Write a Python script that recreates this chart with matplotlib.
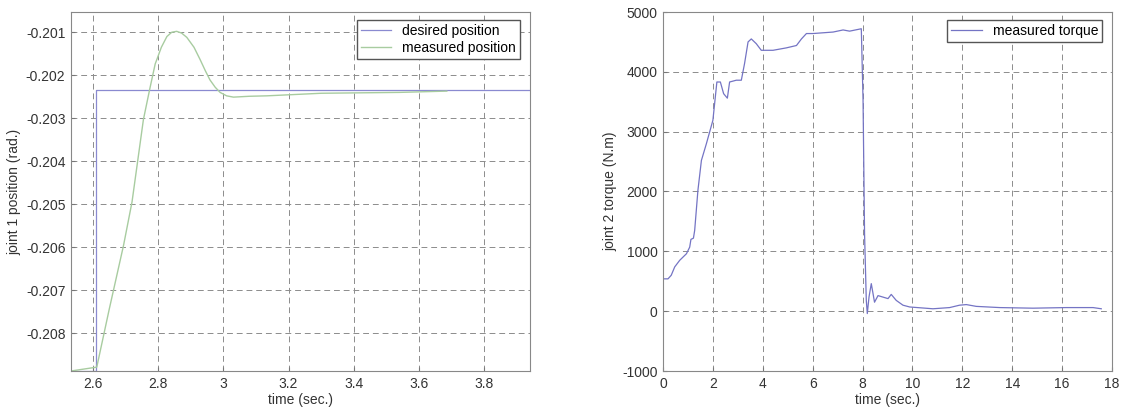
import matplotlib
matplotlib.use("Agg")
import matplotlib.pyplot as plt

# left panel: joint 1 position
des_t = [2.533, 2.609, 2.609, 3.94]
des_pos = [-0.20888, -0.20888, -0.202355, -0.202355]
meas_t = [2.533, 2.612, 2.65, 2.694, 2.72, 2.755, 2.775, 2.791, 2.81, 2.827, 2.842, 2.857, 2.872,
          2.888, 2.91, 2.929, 2.945, 2.959, 2.975, 2.99, 3.01, 3.031, 3.08, 3.133, 3.3, 3.54, 3.685]
meas_pos = [-0.20888, -0.20879, -0.20745, -0.20596, -0.20495, -0.20303, -0.20230, -0.20174,
            -0.20135, -0.20110, -0.20100, -0.20098, -0.20102, -0.20112, -0.20135, -0.20164,
            -0.20190, -0.20211, -0.20228, -0.20240, -0.20248, -0.20251, -0.20249, -0.20248,
            -0.20242, -0.20240, -0.20237]

# right panel: joint 2 torque
torq_t = [0.03, 0.2, 0.33, 0.47, 0.67, 0.94, 1.07, 1.12, 1.22, 1.27, 1.4, 1.54, 1.74, 2.0, 2.16,
          2.3, 2.43, 2.58, 2.67, 2.94, 3.14, 3.27, 3.41, 3.54, 3.74, 3.94, 4.41, 4.94, 5.35, 5.55,
          5.75, 6.01, 6.82, 7.22, 7.48, 7.95, 8.02, 8.08, 8.15, 8.19, 8.26, 8.35, 8.48, 8.62, 8.82,
          9.02, 9.15, 9.35, 9.62, 9.89, 10.82, 11.49, 11.89, 12.16, 12.56, 13.5, 14.83, 16.17,
          17.24, 17.57]
torque = [540, 540, 600, 740, 850, 960, 1070, 1200, 1220, 1350, 2020, 2520, 2800, 3190, 3830,
          3830, 3635, 3560, 3830, 3860, 3860, 4140, 4500, 4550, 4470, 4360, 4360, 4400, 4440, 4550,
          4640, 4640, 4665, 4700, 4680, 4720, 3520, 1295, 180, -40, 240, 460, 150, 260, 235, 210,
          280, 180, 100, 70, 40, 60, 100, 110, 80, 60, 50, 60, 60, 40]

txt = "#333333"
plt.rcParams["font.family"] = ["Liberation Sans", "DejaVu Sans"]
plt.rcParams["font.size"] = 10
plt.rcParams["axes.unicode_minus"] = False

fig = plt.figure(figsize=(11.32, 4.11), dpi=100)
ax1 = fig.add_axes([71/1132, 40/411, 459/1132, 359/411])
ax2 = fig.add_axes([663/1132, 40/411, 449/1132, 359/411])

ax1.plot(des_t, des_pos, color="#8a8ad0", lw=0.9, label="desired position")
ax1.plot(meas_t, meas_pos, color="#a8cca0", lw=1.0, label="measured position")
ax1.set_xlim(2.533, 3.94)
ax1.set_ylim(-0.20888, -0.20053)
ax1.set_xticks([2.6, 2.8, 3.0, 3.2, 3.4, 3.6, 3.8])
ax1.set_xticklabels(["2.6", "2.8", "3", "3.2", "3.4", "3.6", "3.8"])
ax1.set_yticks([-0.201, -0.202, -0.203, -0.204, -0.205, -0.206, -0.207, -0.208])
ax1.set_yticklabels(["-0.201", "-0.202", "-0.203", "-0.204", "-0.205", "-0.206", "-0.207", "-0.208"])
ax1.set_xlabel("time (sec.)", color=txt, labelpad=2)
ax1.set_ylabel("joint 1 position (rad.)", color=txt, labelpad=3)
ax1.legend(loc="upper right", bbox_to_anchor=(0.985, 0.985), fancybox=False, edgecolor="#555555",
           framealpha=1, borderpad=0.3, handlelength=2.2, labelspacing=0.2, borderaxespad=0.2)

ax2.plot(torq_t, torque, color="#7474c4", lw=0.9, label="measured torque")
ax2.set_xlim(0, 18)
ax2.set_ylim(-1000, 5000)
ax2.set_xticks(range(0, 19, 2))
ax2.set_yticks(range(-1000, 5001, 1000))
ax2.set_xlabel("time (sec.)", color=txt, labelpad=2)
ax2.set_ylabel("joint 2 torque (N.m)", color=txt, labelpad=3)
ax2.legend(loc="upper right", bbox_to_anchor=(0.985, 0.985), fancybox=False, edgecolor="#555555",
           framealpha=1, borderpad=0.3, handlelength=2.2, borderaxespad=0.2)

for ax in (ax1, ax2):
    ax.grid(True, linestyle=(0, (6, 4)), color="#8c8c8c", lw=0.7)
    ax.tick_params(direction="in", length=3, colors="#777777", labelcolor=txt, pad=4)
    for s in ax.spines.values():
        s.set_color("#888888")
        s.set_linewidth(0.8)

fig.savefig("out.png", dpi=100)
